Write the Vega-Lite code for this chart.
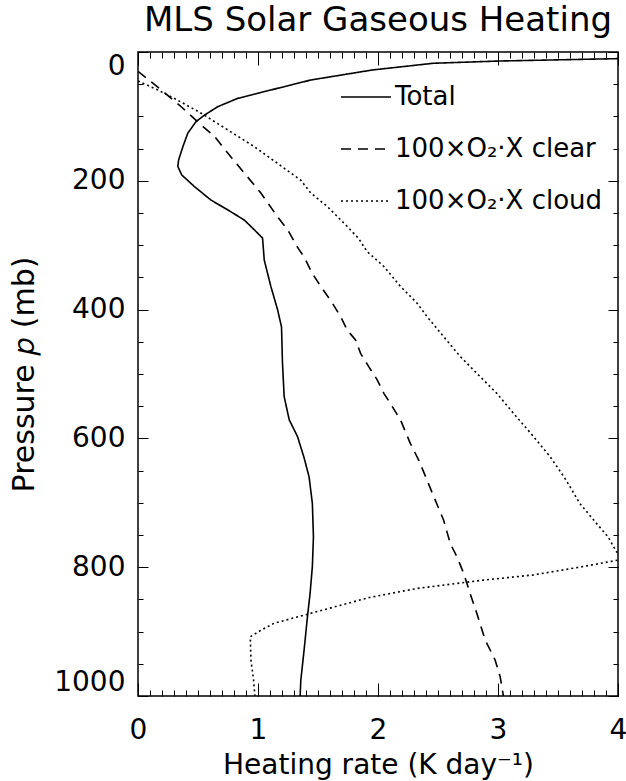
{
  "$schema": "https://vega.github.io/schema/vega-lite/v6.json",
  "width": 480,
  "height": 644,
  "autosize": {"type": "none"},
  "padding": {"left": 138, "top": 52, "right": 8, "bottom": 85},
  "background": "white",
  "title": {
    "text": "MLS Solar Gaseous Heating",
    "fontSize": 34,
    "font": "DejaVu Sans",
    "fontWeight": "normal",
    "color": "black",
    "anchor": "middle",
    "baseline": "alphabetic",
    "offset": 17,
    "dy": 30
  },
  "data": {
    "values": [
      {"s": "Total", "x": 4.0, "p": 10.3},
      {"s": "Total", "x": 3.01, "p": 14},
      {"s": "Total", "x": 2.46, "p": 17.5},
      {"s": "Total", "x": 1.95, "p": 28},
      {"s": "Total", "x": 1.44, "p": 43.5},
      {"s": "Total", "x": 1.107, "p": 59},
      {"s": "Total", "x": 0.83, "p": 72},
      {"s": "Total", "x": 0.664, "p": 85},
      {"s": "Total", "x": 0.554, "p": 98},
      {"s": "Total", "x": 0.484, "p": 108},
      {"s": "Total", "x": 0.415, "p": 126},
      {"s": "Total", "x": 0.374, "p": 147},
      {"s": "Total", "x": 0.338, "p": 168},
      {"s": "Total", "x": 0.332, "p": 178},
      {"s": "Total", "x": 0.365, "p": 191},
      {"s": "Total", "x": 0.47, "p": 209},
      {"s": "Total", "x": 0.609, "p": 230},
      {"s": "Total", "x": 0.747, "p": 245},
      {"s": "Total", "x": 0.886, "p": 261},
      {"s": "Total", "x": 0.969, "p": 276},
      {"s": "Total", "x": 1.038, "p": 289},
      {"s": "Total", "x": 1.052, "p": 323},
      {"s": "Total", "x": 1.107, "p": 364},
      {"s": "Total", "x": 1.163, "p": 400},
      {"s": "Total", "x": 1.196, "p": 427},
      {"s": "Total", "x": 1.204, "p": 483},
      {"s": "Total", "x": 1.218, "p": 535},
      {"s": "Total", "x": 1.26, "p": 571},
      {"s": "Total", "x": 1.329, "p": 597},
      {"s": "Total", "x": 1.384, "p": 630},
      {"s": "Total", "x": 1.426, "p": 660},
      {"s": "Total", "x": 1.453, "p": 701},
      {"s": "Total", "x": 1.462, "p": 753},
      {"s": "Total", "x": 1.453, "p": 799},
      {"s": "Total", "x": 1.434, "p": 841},
      {"s": "Total", "x": 1.412, "p": 877},
      {"s": "Total", "x": 1.384, "p": 929},
      {"s": "Total", "x": 1.357, "p": 975},
      {"s": "Total", "x": 1.351, "p": 1000},
      {"s": "100×O₂·X clear", "x": 0.0, "p": 30},
      {"s": "100×O₂·X clear", "x": 0.194, "p": 59},
      {"s": "100×O₂·X clear", "x": 0.36, "p": 85},
      {"s": "100×O₂·X clear", "x": 0.512, "p": 111},
      {"s": "100×O₂·X clear", "x": 0.637, "p": 131},
      {"s": "100×O₂·X clear", "x": 0.748, "p": 157},
      {"s": "100×O₂·X clear", "x": 0.886, "p": 188},
      {"s": "100×O₂·X clear", "x": 1.024, "p": 219},
      {"s": "100×O₂·X clear", "x": 1.163, "p": 256},
      {"s": "100×O₂·X clear", "x": 1.25, "p": 277},
      {"s": "100×O₂·X clear", "x": 1.335, "p": 305},
      {"s": "100×O₂·X clear", "x": 1.384, "p": 318},
      {"s": "100×O₂·X clear", "x": 1.453, "p": 344},
      {"s": "100×O₂·X clear", "x": 1.523, "p": 364},
      {"s": "100×O₂·X clear", "x": 1.62, "p": 390},
      {"s": "100×O₂·X clear", "x": 1.689, "p": 411},
      {"s": "100×O₂·X clear", "x": 1.744, "p": 432},
      {"s": "100×O₂·X clear", "x": 1.813, "p": 447},
      {"s": "100×O₂·X clear", "x": 1.855, "p": 468},
      {"s": "100×O₂·X clear", "x": 1.924, "p": 489},
      {"s": "100×O₂·X clear", "x": 1.99, "p": 508},
      {"s": "100×O₂·X clear", "x": 2.049, "p": 530},
      {"s": "100×O₂·X clear", "x": 2.104, "p": 546},
      {"s": "100×O₂·X clear", "x": 2.187, "p": 571},
      {"s": "100×O₂·X clear", "x": 2.27, "p": 608},
      {"s": "100×O₂·X clear", "x": 2.34, "p": 634},
      {"s": "100×O₂·X clear", "x": 2.409, "p": 665},
      {"s": "100×O₂·X clear", "x": 2.464, "p": 690},
      {"s": "100×O₂·X clear", "x": 2.547, "p": 727},
      {"s": "100×O₂·X clear", "x": 2.602, "p": 763},
      {"s": "100×O₂·X clear", "x": 2.658, "p": 784},
      {"s": "100×O₂·X clear", "x": 2.713, "p": 809},
      {"s": "100×O₂·X clear", "x": 2.768, "p": 841},
      {"s": "100×O₂·X clear", "x": 2.824, "p": 872},
      {"s": "100×O₂·X clear", "x": 2.893, "p": 913},
      {"s": "100×O₂·X clear", "x": 2.976, "p": 944},
      {"s": "100×O₂·X clear", "x": 3.018, "p": 970},
      {"s": "100×O₂·X clear", "x": 3.045, "p": 1000},
      {"s": "100×O₂·X cloud", "x": 0.0, "p": 45},
      {"s": "100×O₂·X cloud", "x": 0.166, "p": 59},
      {"s": "100×O₂·X cloud", "x": 0.332, "p": 75},
      {"s": "100×O₂·X cloud", "x": 0.526, "p": 95},
      {"s": "100×O₂·X cloud", "x": 0.748, "p": 121},
      {"s": "100×O₂·X cloud", "x": 0.969, "p": 147},
      {"s": "100×O₂·X cloud", "x": 1.163, "p": 173},
      {"s": "100×O₂·X cloud", "x": 1.356, "p": 199},
      {"s": "100×O₂·X cloud", "x": 1.44, "p": 219},
      {"s": "100×O₂·X cloud", "x": 1.578, "p": 240},
      {"s": "100×O₂·X cloud", "x": 1.744, "p": 271},
      {"s": "100×O₂·X cloud", "x": 1.84, "p": 290},
      {"s": "100×O₂·X cloud", "x": 1.91, "p": 310},
      {"s": "100×O₂·X cloud", "x": 2.049, "p": 333},
      {"s": "100×O₂·X cloud", "x": 2.187, "p": 364},
      {"s": "100×O₂·X cloud", "x": 2.326, "p": 390},
      {"s": "100×O₂·X cloud", "x": 2.409, "p": 411},
      {"s": "100×O₂·X cloud", "x": 2.547, "p": 442},
      {"s": "100×O₂·X cloud", "x": 2.686, "p": 473},
      {"s": "100×O₂·X cloud", "x": 2.824, "p": 499},
      {"s": "100×O₂·X cloud", "x": 2.99, "p": 530},
      {"s": "100×O₂·X cloud", "x": 3.129, "p": 561},
      {"s": "100×O₂·X cloud", "x": 3.295, "p": 597},
      {"s": "100×O₂·X cloud", "x": 3.433, "p": 628},
      {"s": "100×O₂·X cloud", "x": 3.558, "p": 662},
      {"s": "100×O₂·X cloud", "x": 3.682, "p": 701},
      {"s": "100×O₂·X cloud", "x": 3.821, "p": 732},
      {"s": "100×O₂·X cloud", "x": 3.918, "p": 753},
      {"s": "100×O₂·X cloud", "x": 3.987, "p": 776},
      {"s": "100×O₂·X cloud", "x": 4.04, "p": 784},
      {"s": "100×O₂·X cloud", "x": 4.0, "p": 789},
      {"s": "100×O₂·X cloud", "x": 3.71, "p": 799},
      {"s": "100×O₂·X cloud", "x": 3.295, "p": 812},
      {"s": "100×O₂·X cloud", "x": 2.88, "p": 820},
      {"s": "100×O₂·X cloud", "x": 2.326, "p": 833},
      {"s": "100×O₂·X cloud", "x": 1.93, "p": 847},
      {"s": "100×O₂·X cloud", "x": 1.689, "p": 859},
      {"s": "100×O₂·X cloud", "x": 1.412, "p": 873},
      {"s": "100×O₂·X cloud", "x": 1.135, "p": 887},
      {"s": "100×O₂·X cloud", "x": 1.024, "p": 898},
      {"s": "100×O₂·X cloud", "x": 0.936, "p": 908},
      {"s": "100×O₂·X cloud", "x": 0.941, "p": 944},
      {"s": "100×O₂·X cloud", "x": 0.963, "p": 975},
      {"s": "100×O₂·X cloud", "x": 0.974, "p": 1000}
    ]
  },
  "layer": [
    {
      "mark": {"type": "line", "clip": true, "color": "black", "strokeWidth": 1.6},
      "encoding": {
        "x": {
          "field": "x", "type": "quantitative",
          "scale": {"domain": [0, 4], "nice": false, "zero": false},
          "axis": {
            "orient": "bottom", "values": [0, 1, 2, 3, 4], "format": "d",
            "tickSize": -13, "labelPadding": 33, "labelFontSize": 28, "labelFlush": false,
            "title": "Heating rate (K day⁻¹)", "titleFontSize": 28, "titlePadding": 7
          }
        },
        "y": {
          "field": "p", "type": "quantitative",
          "scale": {"domain": [0, 1000], "nice": false, "zero": false, "reverse": true},
          "axis": {
            "orient": "left", "values": [0, 200, 400, 600, 800, 1000], "format": "d",
            "tickSize": -10, "labelPadding": 23, "labelFontSize": 28, "labelFlush": true,
            "title": "Pressure 𝑝 (mb)", "titleFontSize": 30, "titlePadding": 14
          }
        },
        "order": {"field": "p", "type": "quantitative"},
        "strokeDash": {
          "field": "s", "type": "nominal",
          "scale": {
            "domain": ["Total", "100×O₂·X clear", "100×O₂·X cloud"],
            "range": [[1, 0], [10, 7], [2, 3]]
          },
          "legend": {
            "orient": "none", "legendX": 202, "legendY": 19, "title": null,
            "symbolType": "stroke", "symbolSize": 2500, "symbolStrokeWidth": 1.6,
            "symbolStrokeColor": "black", "labelFontSize": 26, "labelOffset": 3,
            "labelLimit": 0, "rowPadding": 13, "labelFont": "DejaVu Sans", "labelColor": "black"
          }
        }
      }
    },
    {
      "mark": {"type": "point", "opacity": 0},
      "encoding": {
        "x": {
          "field": "x", "type": "quantitative",
          "axis": {
            "orient": "bottom", "tickSize": -6, "labels": false, "title": null,
            "values": [0,0.1,0.2,0.3,0.4,0.5,0.6,0.7,0.8,0.9,1,1.1,1.2,1.3,1.4,1.5,1.6,1.7,1.8,1.9,2,2.1,2.2,2.3,2.4,2.5,2.6,2.7,2.8,2.9,3,3.1,3.2,3.3,3.4,3.5,3.6,3.7,3.8,3.9,4]
          }
        },
        "y": {
          "field": "p", "type": "quantitative",
          "axis": {
            "orient": "left", "tickSize": -5, "labels": false, "title": null,
            "values": [0,50,100,150,200,250,300,350,400,450,500,550,600,650,700,750,800,850,900,950,1000]
          }
        }
      }
    },
    {
      "mark": {"type": "point", "opacity": 0},
      "encoding": {
        "x": {
          "field": "x", "type": "quantitative",
          "axis": {"orient": "top", "tickSize": -13, "labels": false, "title": null, "values": [0, 1, 2, 3, 4]}
        },
        "y": {
          "field": "p", "type": "quantitative",
          "axis": {"orient": "right", "tickSize": -10, "labels": false, "title": null, "values": [0, 200, 400, 600, 800, 1000]}
        }
      }
    },
    {
      "mark": {"type": "point", "opacity": 0},
      "encoding": {
        "x": {
          "field": "x", "type": "quantitative",
          "axis": {
            "orient": "top", "tickSize": -6, "labels": false, "title": null,
            "values": [0,0.1,0.2,0.3,0.4,0.5,0.6,0.7,0.8,0.9,1,1.1,1.2,1.3,1.4,1.5,1.6,1.7,1.8,1.9,2,2.1,2.2,2.3,2.4,2.5,2.6,2.7,2.8,2.9,3,3.1,3.2,3.3,3.4,3.5,3.6,3.7,3.8,3.9,4]
          }
        },
        "y": {
          "field": "p", "type": "quantitative",
          "axis": {
            "orient": "right", "tickSize": -5, "labels": false, "title": null,
            "values": [0,50,100,150,200,250,300,350,400,450,500,550,600,650,700,750,800,850,900,950,1000]
          }
        }
      }
    }
  ],
  "resolve": {"axis": {"x": "independent", "y": "independent"}},
  "config": {
    "view": {"stroke": "black", "strokeWidth": 1.5},
    "font": "DejaVu Sans",
    "axis": {
      "domain": false, "grid": false, "tickColor": "black", "tickWidth": 1,
      "labelColor": "black", "titleColor": "black", "labelFont": "DejaVu Sans",
      "titleFont": "DejaVu Sans", "titleFontWeight": "normal"
    }
  }
}
